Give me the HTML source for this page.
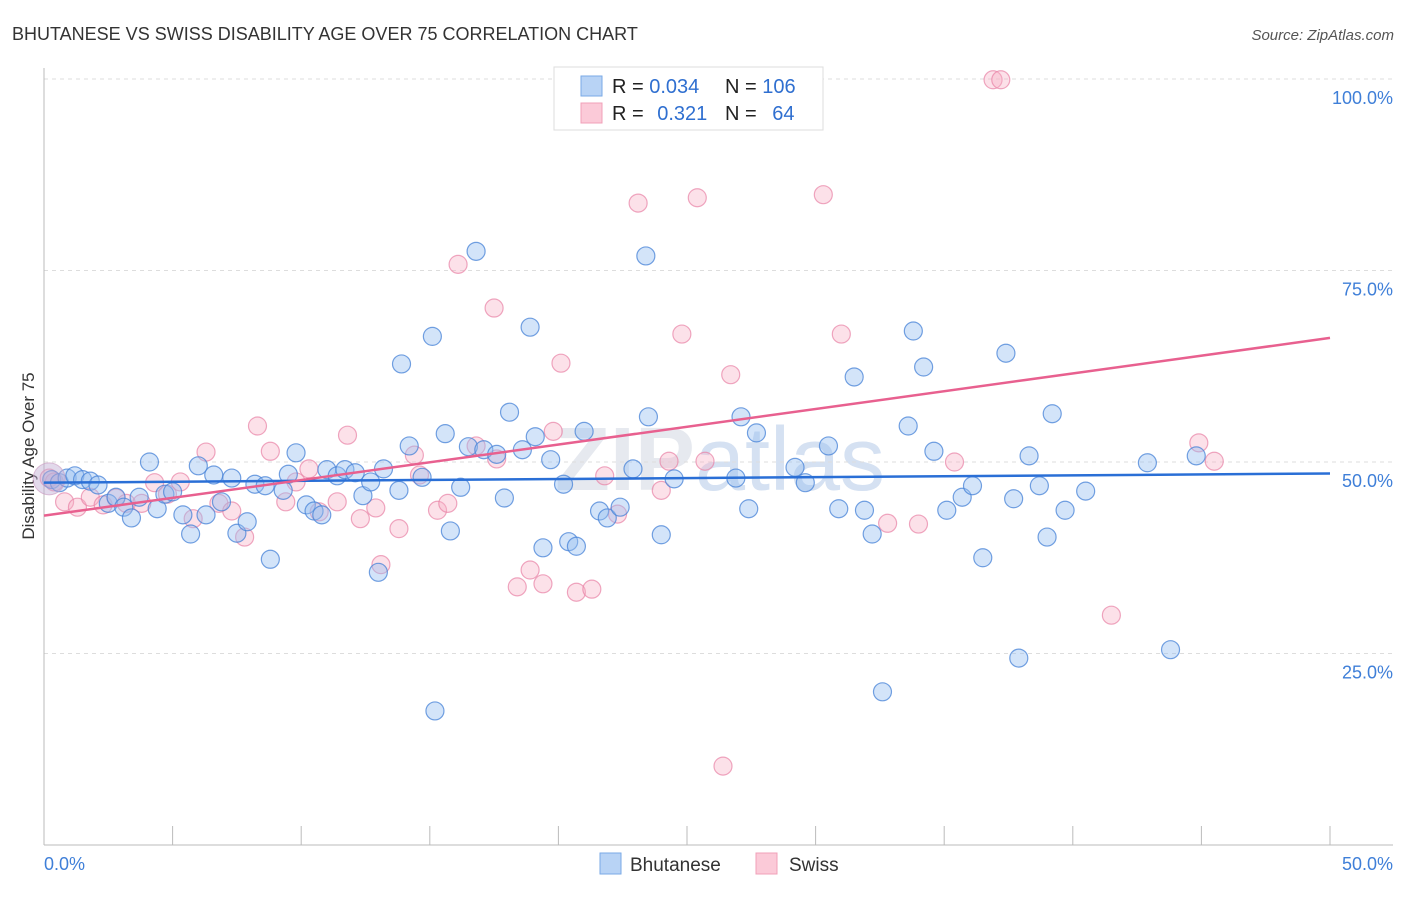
<!DOCTYPE html>
<html><head><meta charset="utf-8"><style>
body{margin:0;background:#fff;font-family:"Liberation Sans",sans-serif}
svg text{font-family:"Liberation Sans",sans-serif}
</style></head><body>
<svg width="1406" height="892" xmlns="http://www.w3.org/2000/svg">
<text x="12" y="40" font-size="18" fill="#333">BHUTANESE VS SWISS DISABILITY AGE OVER 75 CORRELATION CHART</text>
<text x="1394" y="40" font-size="15" fill="#555" font-style="italic" text-anchor="end">Source: ZipAtlas.com</text>
<text x="34" y="456" font-size="17" fill="#333" text-anchor="middle" transform="rotate(-90 34 456)">Disability Age Over 75</text>
<text x="720" y="490" font-size="90" fill="#e6e9ef" text-anchor="middle" font-weight="bold">ZIP<tspan font-weight="normal" fill="#d5e1f2">atlas</tspan></text>
<g id="grid"></g><g id="axes"></g><g id="pts"></g><g id="lines"></g>
<g>
<rect x="554" y="67" width="269" height="63" fill="#fff" stroke="#ddd"/>
<rect x="581" y="76" width="21" height="20" fill="#b8d3f5" stroke="#7aa9e6"/>
<rect x="581" y="103" width="21" height="20" fill="#fbcad8" stroke="#f0a0b8"/>
<text x="612" y="93" font-size="20" fill="#222">R = <tspan fill="#2f6fd0">0.034</tspan></text>
<text x="725" y="93" font-size="20" fill="#222">N = <tspan fill="#2f6fd0">106</tspan></text>
<text x="612" y="120" font-size="20" fill="#222">R = <tspan fill="#2f6fd0" dx="8">0.321</tspan></text>
<text x="725" y="120" font-size="20" fill="#222">N = <tspan fill="#2f6fd0" dx="10">64</tspan></text>
</g>
<g>
<rect x="600" y="853" width="21" height="21" fill="#b8d3f5" stroke="#7aa9e6"/>
<text x="630" y="871" font-size="19" fill="#333">Bhutanese</text>
<rect x="756" y="853" width="21" height="21" fill="#fbcad8" stroke="#f0a0b8"/>
<text x="789" y="871" font-size="19" fill="#333">Swiss</text>
</g>
</svg>
<script>
const yTicks=[100,75,50,25];
const yTickLabels=["100.0%","75.0%","50.0%","25.0%"];
const xTickLabels=["0.0%","50.0%"];
const blueX=[0.3,0.6,0.9,1.2,1.5,1.8,2.1,2.5,2.8,3.1,3.4,3.7,4.1,4.4,4.7,5.0,5.4,5.7,6.0,6.3,6.6,6.9,7.3,7.5,7.9,8.2,8.6,8.8,9.3,9.5,9.8,10.2,10.5,10.8,11.0,11.4,11.7,12.1,12.4,12.7,13.0,13.2,13.8,13.9,14.2,14.7,15.1,15.2,15.6,15.8,16.2,16.5,16.8,17.1,17.6,17.9,18.1,18.6,18.9,19.1,19.4,19.7,20.2,20.4,20.7,21.0,21.6,21.9,22.4,22.9,23.4,23.5,24.0,24.5,26.9,27.1,27.4,27.7,29.2,29.6,30.5,30.9,31.5,31.9,32.2,32.6,33.6,34.2,33.8,34.6,35.1,35.7,36.1,36.5,37.4,37.7,37.9,38.3,38.7,39.0,39.2,39.7,40.5,42.9,43.8,44.8];
const blueY=[47.7,47.3,47.9,48.2,47.7,47.5,47.0,44.6,45.4,44.1,42.7,45.4,50.0,43.9,45.8,46.1,43.1,40.6,49.5,43.1,48.3,44.8,47.9,40.7,42.2,47.1,46.9,37.3,46.3,48.4,51.2,44.4,43.6,43.1,49.0,48.2,49.0,48.6,45.6,47.4,35.6,49.1,46.3,62.8,52.1,48.0,66.4,17.5,53.7,41.0,46.7,52.0,77.5,51.6,51.0,45.3,56.5,51.6,67.6,53.3,38.8,50.3,47.1,39.6,39.0,54.0,43.6,42.7,44.1,49.1,76.9,55.9,40.5,47.8,47.9,55.9,43.9,53.8,49.3,47.3,52.1,43.9,61.1,43.7,40.6,20.0,54.7,62.4,67.1,51.4,43.7,45.4,46.9,37.5,64.2,45.2,24.4,50.8,46.9,40.2,56.3,43.7,46.2,49.9,25.5,50.8];
const pinkX=[0.2,0.4,0.8,1.3,1.8,2.3,2.8,3.2,3.8,4.3,4.8,5.3,5.8,6.3,6.8,7.3,7.8,8.3,8.8,9.4,9.8,10.3,10.7,11.4,11.8,12.3,12.9,13.1,13.8,14.4,14.6,15.3,15.7,16.1,16.8,17.5,17.6,18.4,18.9,19.4,19.8,20.1,20.7,21.3,21.8,22.3,23.1,24.0,24.3,24.8,25.4,25.7,26.4,26.7,27.5,30.3,31.0,32.8,34.0,35.4,36.9,37.2,41.5,44.9,45.5];
const pinkY=[47.9,47.4,44.8,44.1,45.4,44.4,45.3,44.6,44.6,47.3,45.8,47.4,42.6,51.3,44.6,43.6,40.2,54.7,51.4,44.8,47.4,49.1,43.5,44.8,53.5,42.6,44.0,36.6,41.3,50.9,48.3,43.7,44.6,75.8,52.1,70.1,50.4,33.7,35.9,34.1,54.0,62.9,33.0,33.4,48.2,43.2,83.8,46.3,50.1,66.7,84.5,50.1,10.3,61.4,99.9,84.9,66.7,42.0,41.9,50.0,99.9,99.9,30.0,52.5,50.1];
const blueTrend=[47.3,48.5];
const pinkTrend=[43.0,66.2];
const NS="http://www.w3.org/2000/svg";
const X0=44,X1=1330,Y0=845,Y100=79;
const sx=v=>X0+(v/50)*(X1-X0);
const sy=v=>Y0-(v/100)*(Y0-Y100);
function mk(tag,attrs,parent){const e=document.createElementNS(NS,tag);for(const k in attrs)e.setAttribute(k,attrs[k]);document.getElementById(parent).appendChild(e);return e;}
yTicks.forEach((t,i)=>{
 const g=mk('line',{x1:X0,x2:1393,y1:sy(t),y2:sy(t),stroke:'#ddd','stroke-dasharray':'4 4'},'grid');
 
 
 const l=mk('text',{x:1393,y:sy(t)+25,'font-size':18,fill:'#3f7fd8','text-anchor':'end'},'grid');
 l.textContent=yTickLabels[i];
 
 
});
const ax=mk('line',{x1:X0,x2:1393,y1:Y0,y2:Y0,stroke:'#bbb'},'axes');


const ay=mk('line',{x1:X0,x2:X0,y1:68,y2:Y0,stroke:'#bbb'},'axes');


for(let i=0;i<=10;i++){
 const t=mk('line',{x1:sx(i*5),x2:sx(i*5),y1:826,y2:Y0,stroke:'#bbb'},'axes');
 
 
}
[[0,'start',44],[50,'end',1393]].forEach((d,i)=>{
 const l=mk('text',{x:d[2],y:870,'font-size':18,fill:'#3f7fd8','text-anchor':d[1]},'axes');
 l.textContent=xTickLabels[i];
 
 
});
function dots(xs,ys,fill,stroke,name){
 xs.forEach((x,i)=>{
  const c=mk('circle',{cx:sx(x),cy:sy(ys[i]),r:9,fill:fill,stroke:stroke,'stroke-width':1.2},'pts');
  
  
 });
}
dots(pinkX,pinkY,'rgba(248,175,198,0.38)','rgba(232,130,165,0.7)','swiss-point');
dots(blueX,blueY,'rgba(150,190,240,0.42)','rgba(70,130,215,0.75)','bhutanese-point');
const big=mk('circle',{cx:sx(0.2),cy:sy(47.8),r:16,fill:'rgba(190,170,210,0.45)',stroke:'rgba(200,150,190,0.6)'},'pts');


const bl=mk('line',{x1:sx(0),x2:sx(50),y1:sy(blueTrend[0]),y2:sy(blueTrend[1]),stroke:'#2a6fd6','stroke-width':2.5},'lines');


const pl=mk('line',{x1:sx(0),x2:sx(50),y1:sy(pinkTrend[0]),y2:sy(pinkTrend[1]),stroke:'#e8608f','stroke-width':2.5},'lines');


</script>
</body></html>
